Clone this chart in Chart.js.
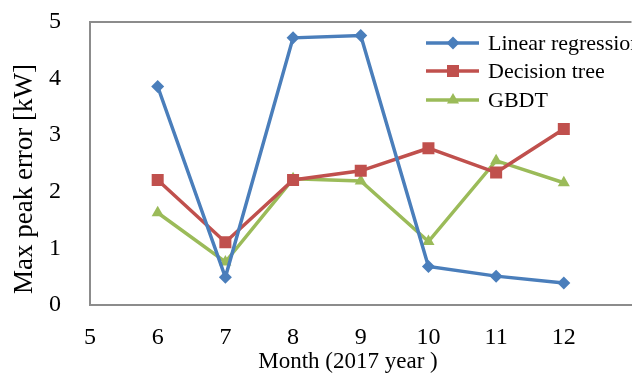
<!DOCTYPE html>
<html>
<head>
<meta charset="utf-8">
<script src="https://cdn.jsdelivr.net/npm/chart.js@4.4.0/dist/chart.umd.min.js"></script>
<style>
  html, body { margin: 0; padding: 0; background: #fff; overflow: hidden; }
  #wrap { width: 632px; height: 376px; overflow: hidden; }
</style>
</head>
<body>
<div id="wrap"><canvas id="grafica" width="640" height="376"></canvas></div>
<script>
// datos
const months = [6, 7, 8, 9, 10, 11, 12];
const linearRegression = [3.86, 0.49, 4.72, 4.76, 0.68, 0.51, 0.39];
const decisionTree = [2.21, 1.11, 2.21, 2.37, 2.77, 2.34, 3.11];
const gbdt = [1.63, 0.76, 2.23, 2.19, 1.12, 2.55, 2.16];
const yTicks = [0, 1, 2, 3, 4, 5];
const xTicks = [5, 6, 7, 8, 9, 10, 11, 12];

const fuente = 'Liberation Serif, Times New Roman, serif';
const ejeGris = '#8c8c8c';

function puntos(valores) {
  return months.map((m, i) => ({ x: m, y: valores[i] }));
}

const series = [
  { label: 'Linear regression', values: linearRegression, color: '#4a7ebb', style: 'rectRot', r: 6.5 },
  { label: 'Decision tree', values: decisionTree, color: '#c0504d', style: 'rect', r: 8.5 },
  { label: 'GBDT', values: gbdt, color: '#9bbb59', style: 'triangle', r: 7 }
];

const datos = {
  datasets: series.map(s => ({
    label: s.label,
    data: puntos(s.values),
    borderColor: s.color,
    backgroundColor: s.color,
    borderWidth: 3.5,
    pointStyle: s.style,
    pointRadius: s.r,
    pointBorderWidth: 0,
    tension: 0
  }))
};

// leyenda y titulos dibujados a mano
const extras = {
  id: 'extras',
  beforeDatasetsDraw(chart) {
    const ctx = chart.ctx, a = chart.chartArea;
    ctx.save();
    ctx.strokeStyle = ejeGris;
    ctx.lineWidth = 2;
    ctx.beginPath();
    ctx.moveTo(a.left, a.top);
    ctx.lineTo(a.right, a.top);
    ctx.stroke();
    ctx.restore();
  },
  afterDraw(chart) {
    const ctx = chart.ctx;
    ctx.save();
    ctx.fillStyle = '#000';
    ctx.textAlign = 'center';
    ctx.textBaseline = 'middle';
    ctx.font = '23px ' + fuente;
    ctx.fillText('Month (2017 year )', 348, 362);
    ctx.font = '27px ' + fuente;
    ctx.translate(25, 179);
    ctx.rotate(-Math.PI / 2);
    ctx.fillText('Max peak error [kW]', 0, 0);
    ctx.restore();

    const filas = [43, 71, 100];
    series.forEach((s, i) => {
      const y = filas[i];
      ctx.save();
      ctx.strokeStyle = s.color;
      ctx.lineWidth = 3.5;
      ctx.beginPath();
      ctx.moveTo(426, y);
      ctx.lineTo(479, y);
      ctx.stroke();
      ctx.fillStyle = s.color;
      Chart.helpers.drawPoint(ctx, { pointStyle: s.style, radius: s.r, rotation: 0, borderWidth: 0 }, 453, y);
      ctx.fillStyle = '#000';
      ctx.font = '22px ' + fuente;
      ctx.textAlign = 'left';
      ctx.textBaseline = 'middle';
      ctx.fillText(s.label, 488, y + 1);
      ctx.restore();
    });
  }
};

const opciones = {
  responsive: false,
  animation: false,
  devicePixelRatio: 1,
  layout: { padding: { top: 22, right: 5, left: 0, bottom: 0 } },
  plugins: { legend: { display: false }, tooltip: { enabled: false } },
  scales: {
    x: {
      type: 'linear',
      min: 5,
      max: 13,
      afterFit: s => { s.height = 71; s.paddingLeft = 0; s.paddingRight = 0; },
      afterBuildTicks: s => { s.ticks = xTicks.map(v => ({ value: v })); },
      grid: { display: false },
      border: { display: true, color: ejeGris, width: 2 },
      ticks: { color: '#000', font: { family: fuente, size: 24 }, padding: 10, maxRotation: 0, autoSkip: false }
    },
    y: {
      min: 0,
      max: 5,
      afterFit: s => { s.width = 90; s.paddingTop = 0; s.paddingBottom = 0; },
      afterBuildTicks: s => { s.ticks = yTicks.map(v => ({ value: v })); },
      grid: { display: false },
      border: { display: true, color: ejeGris, width: 2 },
      ticks: { color: '#000', font: { family: fuente, size: 24 }, padding: 21 }
    }
  }
};

new Chart(document.getElementById('grafica').getContext('2d'), {
  type: 'line',
  data: datos,
  options: opciones,
  plugins: [extras]
});
</script>
</body>
</html>
